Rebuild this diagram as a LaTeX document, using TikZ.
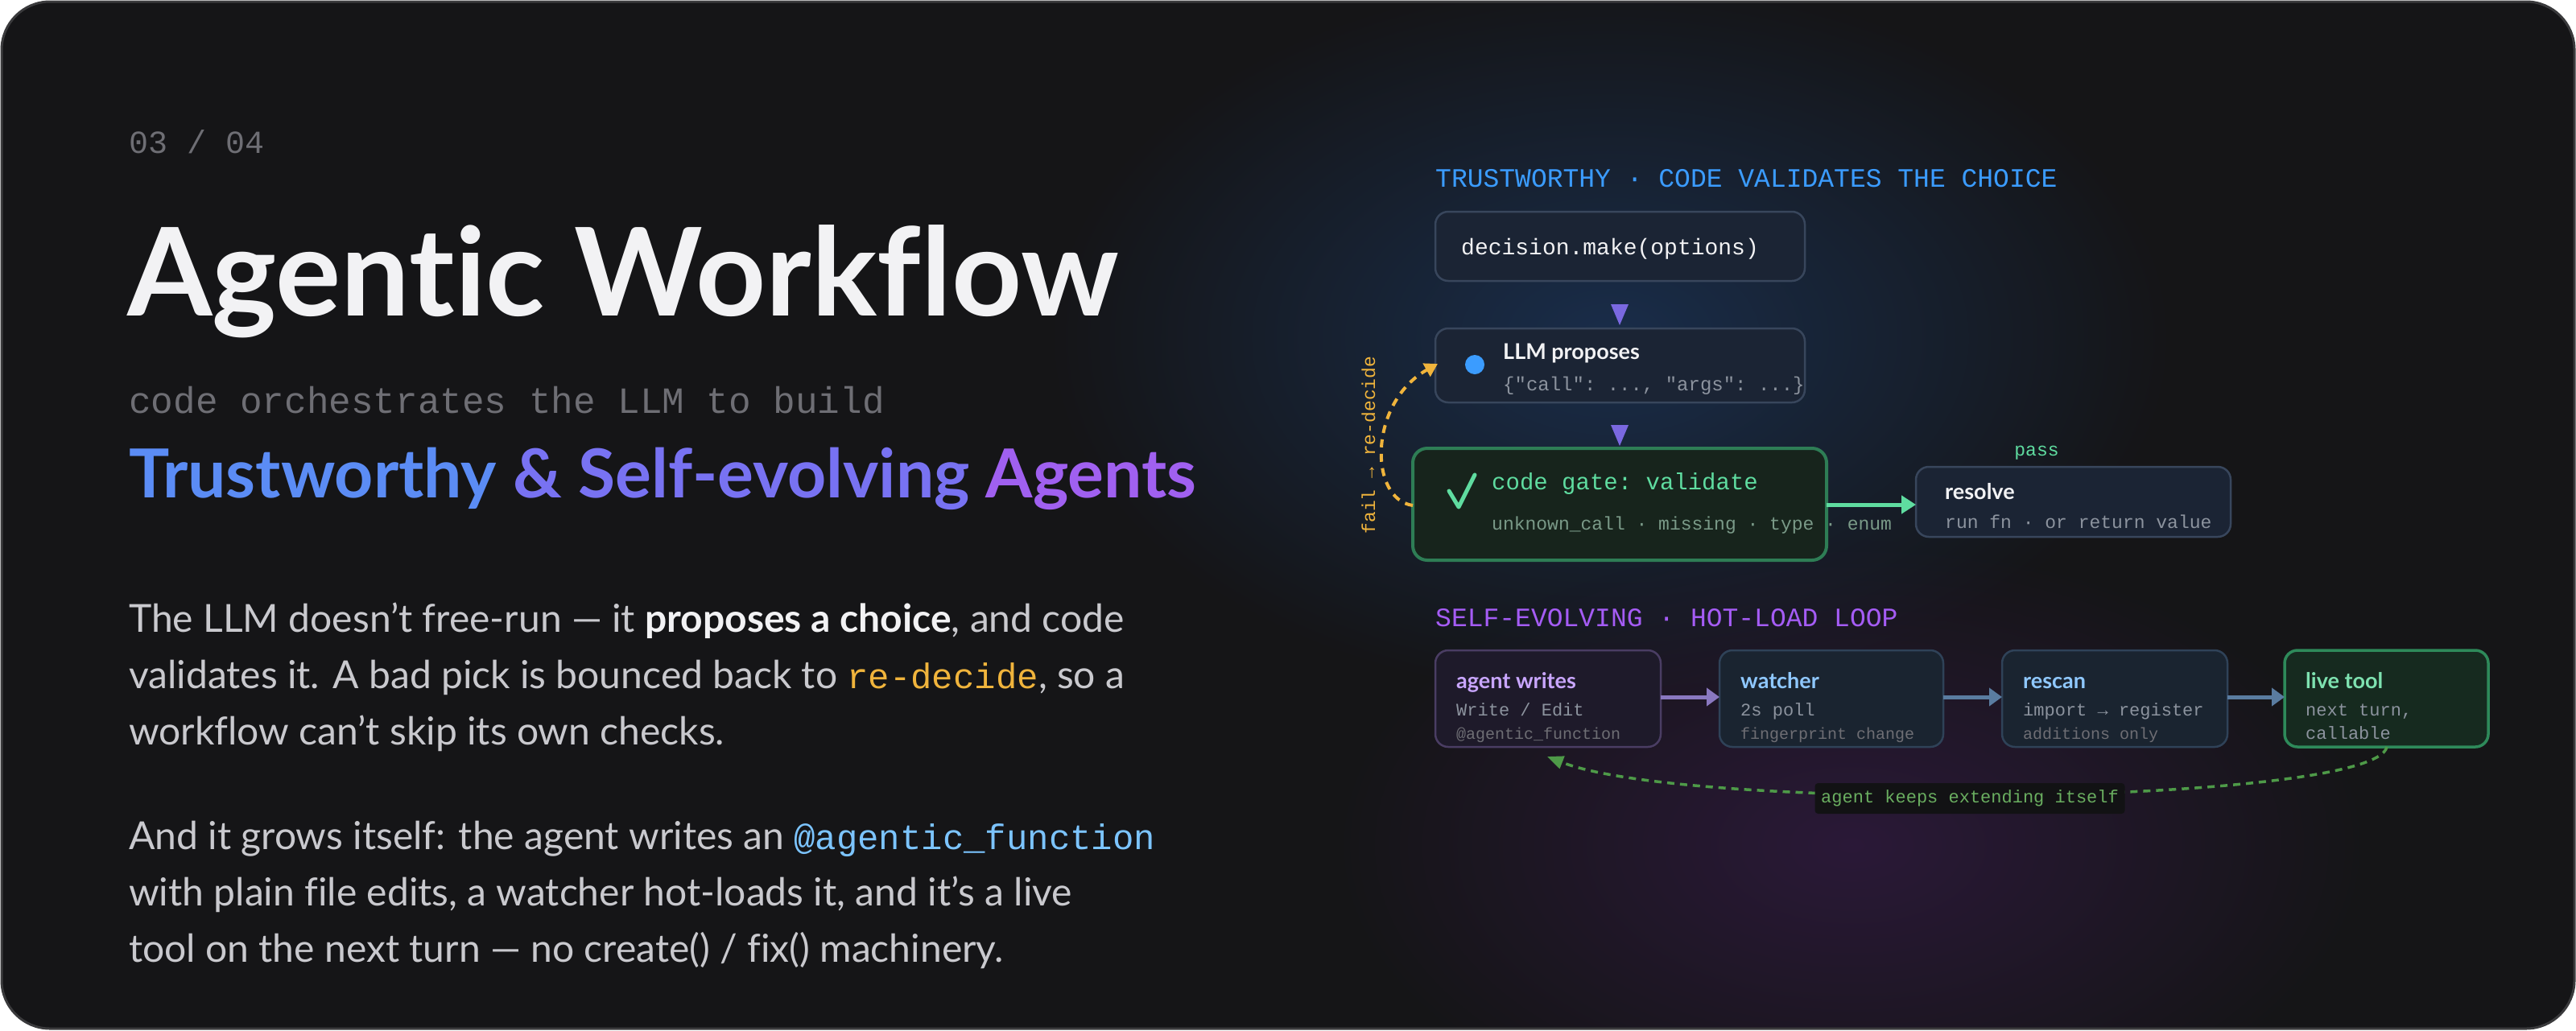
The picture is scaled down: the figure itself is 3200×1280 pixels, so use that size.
\documentclass[tikz,border=0pt]{standalone}
\usepackage{fontspec}
\setmainfont[Ligatures={NoCommon,NoDiscretionary},Contextuals=NoAlternate]{Lato}
\setmonofont{Liberation Mono}
\usetikzlibrary{arrows.meta,fadings,calc}
\tikzfading[name=glow, inner color=transparent!0, outer color=transparent!100]
\newcommand{\ap}{\char"27\relax}
\definecolor{bg}{HTML}{151517}
\definecolor{frame}{HTML}{3A3A3C}
\definecolor{txt}{HTML}{C9C9CE}
\definecolor{dim}{HTML}{6E6E74}
\definecolor{wht}{HTML}{F2F2F4}
\definecolor{orng}{HTML}{F0B43C}
\definecolor{lblue}{HTML}{7CC4FF}
\definecolor{hblue}{HTML}{3B9CFF}
\definecolor{hpurp}{HTML}{A55CF5}
\definecolor{gA}{HTML}{5B8CF5}
\definecolor{gB}{HTML}{7872F2}
\definecolor{gC}{HTML}{A060F0}
\definecolor{nfill}{HTML}{1B2434}
\definecolor{nline}{HTML}{38465C}
\definecolor{gfill}{HTML}{17241C}
\definecolor{gline}{HTML}{2E7D55}
\definecolor{ggreen}{HTML}{5FDCA0}
\definecolor{gsub}{HTML}{7A9A88}
\definecolor{sub}{HTML}{8C939E}
\definecolor{tri}{HTML}{7A68E0}
\definecolor{pfill}{HTML}{1E1A2A}
\definecolor{pline}{HTML}{4A3D63}
\definecolor{ptxt}{HTML}{C9A6FF}
\definecolor{bfill}{HTML}{1A2430}
\definecolor{bline}{HTML}{2F4258}
\definecolor{btxt}{HTML}{8FC8FF}
\definecolor{lfill}{HTML}{162A1F}
\definecolor{lline}{HTML}{2E8A5A}
\definecolor{ltxt}{HTML}{7EE2B0}
\definecolor{arrp}{HTML}{8A78C0}
\definecolor{arrs}{HTML}{5A7CA0}
\definecolor{loopg}{HTML}{4E9A48}
\definecolor{loopt}{HTML}{6AAE60}
\definecolor{glowb}{HTML}{1A3050}
\definecolor{glowp}{HTML}{301A40}
\definecolor{lblbg}{HTML}{121214}
\tikzset{
 box/.style={draw=nline,fill=nfill,line width=2.5pt,rounded corners=16pt},
 mono/.style={font=\ttfamily,inner sep=0,anchor=base west},
 sans/.style={font=\bfseries,inner sep=0,anchor=base west},
}
\begin{document}
\begin{tikzpicture}[x=1pt,y=-1pt]
\useasboundingbox (0,0) rectangle (3200,1280);
\fill[bg,rounded corners=60pt] (2,2) rectangle (3198,1278);
\begin{scope}
\clip[rounded corners=60pt] (2,2) rectangle (3198,1278);
\fill[glowb,opacity=0.9,path fading=glow] (2000,420) ellipse (700 and 450);
\fill[glowp,opacity=0.8,path fading=glow] (2300,1050) ellipse (650 and 380);
\end{scope}
\draw[frame,line width=3pt,rounded corners=60pt] (2,2) rectangle (3198,1278);

% left text
\node[mono,text=dim,font=\ttfamily\fontsize{40}{40}\selectfont] (pg) at (160,190) {03 / 04};
\node[sans,text=wht,font=\bfseries\fontsize{152}{152}\selectfont] (title) at (158,392) {Agentic Workflow};
\node[mono,text=dim,font=\ttfamily\fontsize{46}{46}\selectfont] (st) at (160,513) {code orchestrates the LLM to build};
\node[sans,font=\bfseries\fontsize{84}{84}\selectfont] (grad) at (160,618) {\textcolor{gA}{Trustworthy} \textcolor{gB}{\& Self-evolving} \textcolor{gC}{Agents}};
\begin{scope}[every node/.style={inner sep=0,anchor=base west,text=txt,font=\fontsize{48}{48}\selectfont}]
\node (p1) at (160,785) {The LLM doesn\ap t free-run — it \textbf{\textcolor{wht}{proposes a choice}}, and code};
\node (p2) at (160,855) {validates it. A bad pick is bounced back to \textcolor{orng}{\ttfamily\fontsize{44}{44}\selectfont re-decide}, so a};
\node (p3) at (160,925) {workflow can\ap t skip its own checks.};
\node (q1) at (160,1055) {And it grows itself: the agent writes an \textcolor{lblue}{\ttfamily\fontsize{44}{44}\selectfont @agentic\_function}};
\node (q2) at (160,1125) {with plain file edits, a watcher hot-loads it, and it\ap s a live};
\node (q3) at (160,1195) {tool on the next turn — no create() / fix() machinery.};
\end{scope}

% trustworthy section
\node[mono,text=hblue,font=\ttfamily\fontsize{33}{33}\selectfont] (h1) at (1783,232) {TRUSTWORTHY · CODE VALIDATES THE CHOICE};
\draw[box] (1783,263) rectangle (2242,349);
\node[mono,text=wht,font=\ttfamily\fontsize{28}{28}\selectfont] (dec) at (1815,316) {decision.make(options)};
\coordinate (t1) at (2012,392);
\fill[tri] ($(t1)+(-11,-14)$) -- ($(t1)+(11,-14)$) -- ($(t1)+(0,12)$) -- cycle;
\draw[box] (1783,408) rectangle (2242,500);
\fill[hblue] (1832,453) circle (12);
\node[sans,text=wht,font=\bfseries\fontsize{27}{27}\selectfont] (llm) at (1867,446) {LLM proposes};
\node[mono,text=sub,font=\ttfamily\fontsize{24}{24}\selectfont] (llmsub) at (1867,485) {\{"call": ..., "args": ...\}};
\coordinate (t2) at (2012,542);
\fill[tri] ($(t2)+(-11,-14)$) -- ($(t2)+(11,-14)$) -- ($(t2)+(0,12)$) -- cycle;
\draw[draw=gline,fill=gfill,line width=4pt,rounded corners=18pt] (1755,557) rectangle (2269,696);
\draw[ggreen,line width=5pt,line cap=round,line join=round] (1800,610) -- (1812,630) -- (1832,590);
\node[mono,text=ggreen,font=\ttfamily\fontsize{29}{29}\selectfont] (cg) at (1853,608) {code gate: validate};
\node[mono,text=gsub,font=\ttfamily\fontsize{23}{23}\selectfont] (cgs) at (1853,658) {unknown\_call · missing · type · enum};
\draw[box] (2380,580) rectangle (2771,667);
\node[sans,text=wht,font=\bfseries\fontsize{27}{27}\selectfont] (res) at (2416,620) {resolve};
\node[mono,text=sub,font=\ttfamily\fontsize{23}{23}\selectfont] (ress) at (2416,656) {run fn · or return value};
\draw[ggreen,line width=5pt,-{Triangle[length=18pt,width=22pt]}] (2269,627) -- (2380,627);
\node[mono,anchor=base,text=ggreen,font=\ttfamily\fontsize{23}{23}\selectfont] (pass) at (2530,566) {pass};
\draw[orng,line width=4pt,dash pattern=on 10pt off 8pt,-{Triangle[length=16pt,width=18pt]}] (1755,628) .. controls (1700,620) and (1700,500) .. (1786,452);
\node[mono,rotate=90,anchor=center,text=orng,font=\ttfamily\fontsize{23}{23}\selectfont] (fail) at (1700,553) {fail → re-decide};

% self-evolving
\node[mono,text=hpurp,font=\ttfamily\fontsize{33}{33}\selectfont] (h2) at (1783,778) {SELF-EVOLVING · HOT-LOAD LOOP};
\draw[box,draw=pline,fill=pfill] (1783,808) rectangle (2063,928);
\draw[box,draw=bline,fill=bfill] (2136,808) rectangle (2414,928);
\draw[box,draw=bline,fill=bfill] (2487,808) rectangle (2767,928);
\draw[box,draw=lline,fill=lfill,line width=3.5pt] (2838,808) rectangle (3091,928);
\begin{scope}[every node/.style={inner sep=0,anchor=base west}]
\node[text=ptxt,font=\bfseries\fontsize{27}{27}\selectfont] (a1) at (1809,855) {agent writes};
\node[text=sub,font=\ttfamily\fontsize{22}{22}\selectfont] (a2) at (1809,889) {Write / Edit};
\node[text=dim,font=\ttfamily\fontsize{20}{20}\selectfont] (a3) at (1809,918) {@agentic\_function};
\node[text=btxt,font=\bfseries\fontsize{27}{27}\selectfont] (w1) at (2162,855) {watcher};
\node[text=sub,font=\ttfamily\fontsize{22}{22}\selectfont] (w2) at (2162,889) {2s poll};
\node[text=dim,font=\ttfamily\fontsize{20}{20}\selectfont] (w3) at (2162,918) {fingerprint change};
\node[text=btxt,font=\bfseries\fontsize{27}{27}\selectfont] (r1) at (2513,855) {rescan};
\node[text=sub,font=\ttfamily\fontsize{22}{22}\selectfont] (r2) at (2513,889) {import → register};
\node[text=dim,font=\ttfamily\fontsize{20}{20}\selectfont] (r3) at (2513,918) {additions only};
\node[text=ltxt,font=\bfseries\fontsize{27}{27}\selectfont] (l1) at (2864,855) {live tool};
\node[text=sub,font=\ttfamily\fontsize{22}{22}\selectfont] (l2) at (2864,889) {next turn,};
\node[text=sub,font=\ttfamily\fontsize{22}{22}\selectfont] (l3) at (2864,918) {callable};
\end{scope}
\draw[arrp,line width=5pt,-{Triangle[length=16pt,width=22pt]}] (2063,866) -- (2136,866);
\draw[arrs,line width=5pt,-{Triangle[length=16pt,width=22pt]}] (2414,866) -- (2487,866);
\draw[arrs,line width=5pt,-{Triangle[length=16pt,width=22pt]}] (2767,866) -- (2838,866);
\draw[loopg,line width=3.5pt,dash pattern=on 9pt off 7pt,-{Triangle[length=20pt,width=16pt]}] (2965,928) .. controls (2950,1000) and (2100,1010) .. (1922,940);
\node[fill=lblbg,rounded corners=4pt,minimum width=385pt,minimum height=38pt,inner sep=0,text=loopt,font=\ttfamily\fontsize{22}{22}\selectfont] (lbl) at (2447,992) {agent keeps extending itself};
\end{tikzpicture}
\end{document}
